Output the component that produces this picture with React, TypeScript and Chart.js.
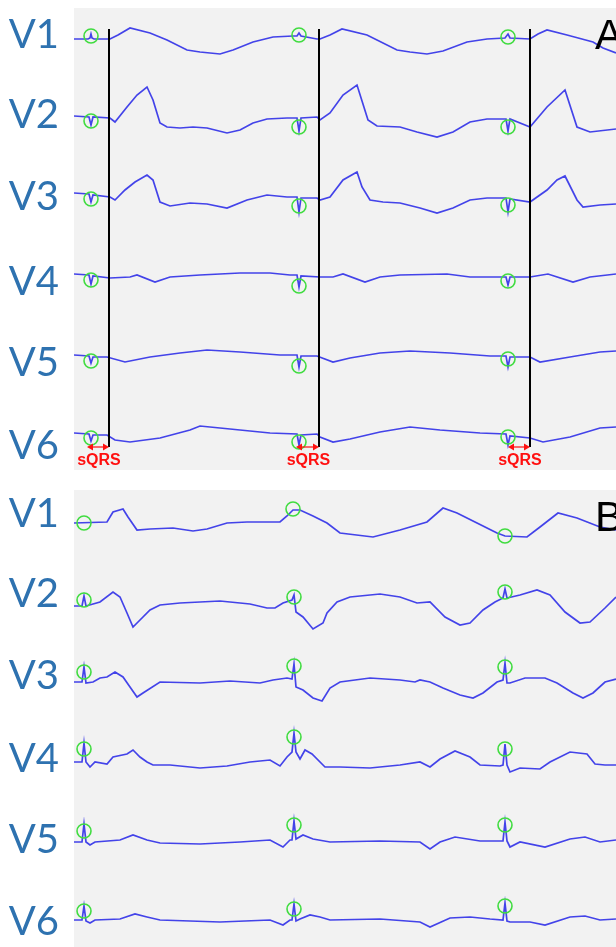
import React, { useEffect, useRef } from "react";
import { Chart, registerables } from "chart.js";
Chart.register(...registerables);

// ---------- data (time in samples, amplitude in a.u. above each lead's baseline) ----------
const LEADS = ["V1", "V2", "V3", "V4", "V5", "V6"];

// Panel A traces
const A_V1 = [[0,0],[14,0],[16,1],[17,5],[18,1],[20,0],[36,0],[44,4],[56,11],[76,6],[93,-1],[113,-11],[126,-13],[146,-15],[159,-11],[179,-3],[199,2],[219,3],[223,3],[225,6],[227,3],[243,0],[246,0],[256,4],[268,10],[293,4],[323,-11],[336,-13],[353,-15],[369,-12],[393,-3],[413,0],[431,1],[434,5],[436,1],[456,0],[464,5],[473,9],[493,4],[519,-3],[529,-9],[542,-14]];
const A_V2 = [[0,1],[15,0],[17,-8],[19,0],[36,-1],[41,-5],[53,10],[63,22],[73,30],[79,17],[86,-6],[93,-10],[106,-11],[119,-10],[133,-11],[153,-16],[166,-13],[179,-6],[193,-2],[213,-1],[223,-1],[225,-14],[227,-1],[243,0],[246,-3],[256,4],[269,22],[283,32],[294,-3],[303,-9],[326,-10],[343,-15],[363,-20],[379,-15],[396,-5],[413,-2],[432,-2],[434,-14],[436,-2],[456,-10],[473,10],[491,27],[503,-10],[516,-15],[542,-12]];
const A_V3 = [[0,1],[15,0],[17,-8],[19,-1],[36,-3],[41,-6],[51,4],[61,12],[73,19],[79,14],[86,-8],[96,-12],[116,-9],[133,-10],[153,-14],[173,-6],[193,-1],[213,-3],[223,-3],[225,-18],[227,-4],[243,-4],[246,-6],[256,-3],[269,14],[283,22],[288,7],[296,-6],[309,-8],[326,-9],[346,-14],[363,-19],[379,-14],[396,-6],[413,-4],[432,-4],[434,-18],[436,-5],[456,-8],[473,4],[483,14],[491,18],[503,-6],[509,-13],[526,-11],[542,-10]];
const A_V4 = [[0,1],[15,0],[17,-9],[19,-1],[36,-3],[56,-2],[63,0],[81,-7],[96,-2],[126,0],[166,2],[196,2],[216,0],[223,0],[225,-12],[227,-1],[246,-2],[259,-2],[269,1],[291,-7],[306,-2],[326,0],[373,1],[396,-2],[432,-2],[434,-10],[436,-2],[456,-2],[474,1],[499,-7],[516,-2],[542,1]];
const A_V5 = [[0,1],[15,0],[17,-7],[19,-1],[33,-1],[51,-6],[76,-1],[106,3],[133,6],[166,4],[206,1],[223,1],[225,-11],[227,0],[243,0],[259,-6],[276,-2],[306,3],[336,5],[376,3],[416,0],[432,0],[434,-11],[436,-1],[456,-1],[466,-6],[496,-1],[526,4],[542,5]];
const A_V6 = [[0,0],[15,-1],[17,-8],[19,-2],[33,-2],[41,-7],[56,-9],[86,-5],[116,3],[126,7],[146,5],[166,3],[196,0],[223,-1],[225,-12],[227,-2],[243,-1],[246,-4],[259,-9],[276,-6],[306,1],[336,6],[366,3],[406,0],[432,-1],[434,-12],[436,-3],[456,-5],[469,-9],[496,-4],[526,5],[542,6]];

// Panel A detected QRS marks (time, amplitude) per lead
const A_MARKS = [
  [[17,3],[225,4],[434,2]],
  [[17,-4],[225,-10],[434,-10]],
  [[17,-5],[225,-12],[434,-11]],
  [[17,-5],[225,-11],[434,-6]],
  [[17,-5],[225,-10],[434,-3]],
  [[17,-5],[225,-9],[434,-4]],
];
// Panel A synchronised QRS onset times and sQRS interval starts
const A_SYNC = [35, 245, 456];
const A_SQRS_START = [13, 222, 434];

// Panel B traces
const B_V1 = [[0,0],[33,1],[39,11],[49,14],[54,6],[63,-7],[76,-6],[99,-5],[119,-8],[133,-6],[153,0],[173,1],[206,1],[213,7],[219,13],[226,13],[239,7],[253,0],[266,-10],[299,-14],[326,-7],[353,1],[369,15],[383,10],[403,0],[423,-10],[431,-13],[453,-14],[466,-4],[484,10],[503,5],[526,-4],[542,-7]];
const B_V2 = [[0,0],[8,0],[10,10],[12,0],[26,4],[39,14],[46,9],[53,-7],[59,-21],[66,-14],[76,-4],[86,1],[106,3],[146,5],[176,2],[193,-2],[201,-2],[209,3],[218,6],[220,11],[222,-6],[229,-11],[239,-23],[249,-17],[253,-7],[263,4],[276,9],[306,12],[326,9],[343,3],[356,4],[371,-11],[386,-19],[396,-17],[409,-4],[421,4],[429,8],[431,17],[433,8],[446,11],[463,16],[476,11],[491,-6],[506,-17],[516,-16],[531,-2],[542,9]];
const B_V3 = [[0,0],[8,0],[10,15],[12,-1],[19,0],[26,4],[33,5],[41,10],[49,5],[56,-5],[63,-15],[69,-11],[86,0],[126,-1],[156,1],[186,-1],[199,2],[213,4],[218,3],[220,18],[222,-5],[229,-8],[239,-16],[248,-19],[256,-6],[266,0],[296,4],[326,2],[341,0],[346,2],[356,0],[369,-6],[386,-13],[399,-16],[409,-11],[423,0],[429,2],[431,19],[433,-1],[436,-1],[451,4],[471,4],[483,-1],[499,-11],[509,-16],[519,-11],[531,0],[542,3]];
const B_V4 = [[0,0],[8,0],[10,19],[12,0],[16,-5],[21,0],[33,-2],[39,5],[53,8],[59,12],[66,5],[73,0],[79,-3],[96,-3],[126,-6],[153,-4],[176,0],[196,2],[206,-4],[213,5],[218,10],[220,29],[222,10],[226,3],[231,12],[238,8],[251,-5],[266,-5],[296,-6],[326,-3],[346,0],[356,-5],[366,3],[381,11],[396,5],[406,-3],[426,-4],[429,-3],[431,18],[433,-3],[436,-10],[446,-6],[466,-7],[476,0],[496,10],[513,8],[521,-2],[531,-3],[542,-3]];
const B_V5 = [[0,0],[8,0],[10,18],[12,0],[16,-3],[21,0],[46,2],[59,7],[73,2],[86,-1],[126,-2],[166,0],[196,2],[209,-5],[216,2],[218,2],[220,21],[222,3],[229,7],[239,3],[256,0],[306,1],[346,0],[356,-7],[366,0],[381,5],[406,1],[429,1],[431,20],[433,1],[436,-5],[446,0],[471,-5],[496,3],[511,5],[526,0],[542,2]];
const B_V6 = [[0,0],[8,0],[10,14],[12,-1],[16,-3],[21,0],[46,1],[61,6],[73,3],[86,0],[146,-2],[196,0],[209,-5],[216,0],[218,0],[220,16],[222,-1],[226,1],[236,5],[246,3],[256,0],[306,1],[346,-2],[356,-7],[376,2],[396,3],[416,1],[429,0],[431,17],[433,-1],[436,-2],[456,-2],[471,-5],[496,3],[511,4],[526,0],[542,1]];

const B_MARKS = [
  [[10,0],[219,14],[431,-13]],
  [[10,6],[220,9],[431,14]],
  [[10,10],[220,16],[431,15]],
  [[10,13],[220,25],[431,13]],
  [[10,11],[220,17],[431,17]],
  [[10,9],[220,11],[431,14]],
];

// ---------- layout / style ----------
const W = 616;
const PANELS = [
  {
    letter: "A", top: 0, height: 475, yMin: 8, yMax: 470, padTop: 8, padBottom: 5,
    baselines: [39, 117, 194, 275, 356, 433], labelAt: [35, 115, 197, 282, 363, 446],
    traces: [A_V1, A_V2, A_V3, A_V4, A_V5, A_V6], marks: A_MARKS,
    sync: A_SYNC, sqrs: A_SQRS_START, syncTop: 29, syncBottom: 447, arrowY: 447, sqrsTextY: 461,
    letterBaseline: 49,
  },
  {
    letter: "B", top: 480, height: 467, yMin: 490, yMax: 947, padTop: 10, padBottom: 0,
    baselines: [523, 606, 682, 762, 842, 920], labelAt: [514, 594, 676, 759, 840, 922],
    traces: [B_V1, B_V2, B_V3, B_V4, B_V5, B_V6], marks: B_MARKS,
    sync: [], sqrs: [], syncTop: 0, syncBottom: 0, arrowY: 0, sqrsTextY: 0,
    letterBaseline: 531,
  },
];

const TRACE = "rgba(52,52,232,0.92)";
const GREEN = "#40dc40";
const LABEL_BLUE = "#2e72b0";
const BG = "#f2f2f2";
const RED = "#ff1010";

function Panel({ cfg }: { cfg: any }) {
  const ref = useRef<HTMLCanvasElement>(null);
  useEffect(() => {
    const datasets: any[] = [];
    cfg.sync.forEach((t: number) => {
      datasets.push({
        data: [{ x: t, y: cfg.syncTop }, { x: t, y: cfg.syncBottom }],
        borderColor: "#000", borderWidth: 2, pointRadius: 0, order: 0,
      });
    });
    cfg.marks.forEach((m: number[][], i: number) => {
      datasets.push({
        data: m.map(([t, a]) => ({ x: t, y: cfg.baselines[i] - a })),
        showLine: false, pointRadius: 7, pointHoverRadius: 7,
        pointBorderColor: GREEN, pointBackgroundColor: "rgba(0,0,0,0)", pointBorderWidth: 1.6,
        order: 1,
      });
    });
    cfg.traces.forEach((tr: number[][], i: number) => {
      datasets.push({
        data: tr.map(([t, a]) => ({ x: t, y: cfg.baselines[i] - a })),
        borderColor: TRACE, borderWidth: 1.7, pointRadius: 0, tension: 0, order: 2,
      });
    });

    const overlay = {
      id: "overlay",
      beforeDraw(chart: any) {
        const { ctx, chartArea: a } = chart;
        ctx.save();
        ctx.fillStyle = BG;
        ctx.fillRect(a.left, a.top, a.right - a.left, a.bottom - a.top);
        ctx.restore();
      },
      afterDraw(chart: any) {
        const { ctx } = chart;
        const xs = chart.scales.x, ys = chart.scales.y;
        ctx.save();
        ctx.fillStyle = "#000";
        ctx.font = "42px 'Liberation Sans', Arial, sans-serif";
        ctx.textAlign = "left";
        ctx.textBaseline = "alphabetic";
        ctx.fillText(cfg.letter, 595, ys.getPixelForValue(cfg.letterBaseline));
        cfg.sqrs.forEach((s: number, i: number) => {
          const x1 = xs.getPixelForValue(s), x2 = xs.getPixelForValue(cfg.sync[i]);
          const y = ys.getPixelForValue(cfg.arrowY);
          ctx.strokeStyle = RED; ctx.fillStyle = RED; ctx.lineWidth = 1.2;
          ctx.beginPath(); ctx.moveTo(x1 + 2, y); ctx.lineTo(x2 - 2, y); ctx.stroke();
          const head = (x: number, dir: number) => {
            ctx.beginPath(); ctx.moveTo(x, y); ctx.lineTo(x - dir * 6, y - 3.5); ctx.lineTo(x - dir * 6, y + 3.5); ctx.closePath(); ctx.fill();
          };
          head(x1, -1); head(x2, 1);
          ctx.font = "bold 16px 'Liberation Sans', Arial, sans-serif";
          ctx.textAlign = "center"; ctx.textBaseline = "middle";
          ctx.fillText("sQRS", (x1 + x2) / 2 + 1, ys.getPixelForValue(cfg.sqrsTextY));
        });
        ctx.restore();
      },
    };

    const chart = new Chart(ref.current!, {
      type: "line",
      data: { datasets },
      options: {
        animation: false, responsive: false, devicePixelRatio: 1,
        layout: { autoPadding: false, padding: { top: cfg.padTop, bottom: cfg.padBottom, left: 0, right: 0 } },
        plugins: { legend: { display: false }, tooltip: { enabled: false } },
        events: [],
        scales: {
          x: { type: "linear", min: 0, max: 542, display: false },
          y: {
            type: "linear", min: cfg.yMin, max: cfg.yMax, reverse: true,
            grid: { display: false, drawTicks: false }, border: { display: false },
            afterBuildTicks: (s: any) => { s.ticks = cfg.labelAt.map((v: number) => ({ value: v })); },
            afterFit: (s: any) => {
              s.width = 74;
              s.paddingTop = 0; s.paddingBottom = 0; s.paddingLeft = 0; s.paddingRight = 0;
            },
            ticks: {
              autoSkip: false, padding: 15, color: LABEL_BLUE,
              font: { family: "Lato, 'Open Sans', sans-serif", size: 40 },
              callback: (_v: any, i: number) => LEADS[i],
            },
          },
        },
      },
      plugins: [overlay],
    } as any);
    return () => chart.destroy();
  }, []);
  return (
    <canvas ref={ref} width={W} height={cfg.height}
      style={{ position: "absolute", left: 0, top: cfg.top, width: W, height: cfg.height }} />
  );
}

export default function App() {
  return (
    <div style={{ position: "absolute", left: 0, top: 0, width: W, height: 947, background: "#fff" }}>
      {PANELS.map((p) => <Panel key={p.letter} cfg={p} />)}
    </div>
  );
}
